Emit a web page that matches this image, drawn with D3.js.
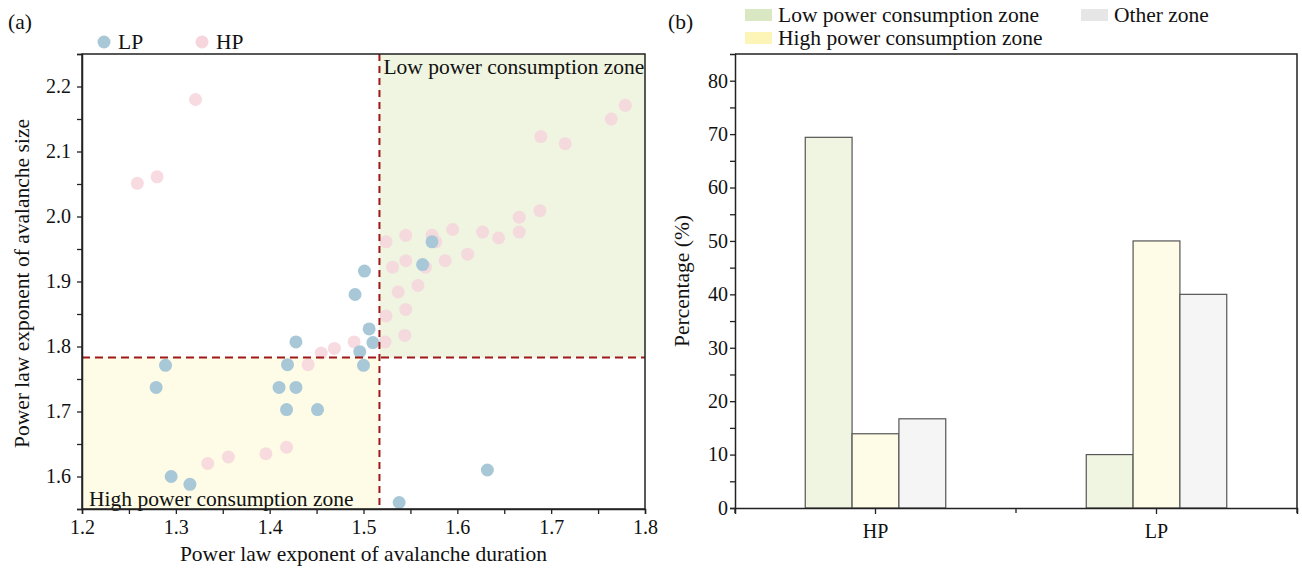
<!DOCTYPE html>
<html>
<head>
<meta charset="utf-8">
<script src="https://cdn.jsdelivr.net/npm/d3@7"></script>
<style>
  body { margin: 0; background: #fff; }
  svg { font-family: "Liberation Serif", "Times New Roman", serif; }
</style>
</head>
<body>
<svg width="1302" height="568"></svg>
<script>
// scatter data (a): [duration exponent, size exponent]
const lpPoints = [
  [1.279, 1.737], [1.289, 1.771], [1.295, 1.600], [1.315, 1.588],
  [1.410, 1.737], [1.419, 1.772], [1.428, 1.807], [1.428, 1.737],
  [1.418, 1.703], [1.451, 1.703], [1.491, 1.880], [1.501, 1.916],
  [1.506, 1.827], [1.510, 1.806], [1.496, 1.792], [1.500, 1.771],
  [1.563, 1.926], [1.573, 1.961], [1.538, 1.560], [1.632, 1.610]
]
const hpPoints = [
  [1.259, 2.051], [1.280, 2.061], [1.321, 2.180], [1.334, 1.620],
  [1.356, 1.630], [1.396, 1.635], [1.418, 1.645], [1.441, 1.772],
  [1.455, 1.790], [1.469, 1.797], [1.490, 1.807], [1.523, 1.807],
  [1.544, 1.817], [1.524, 1.847], [1.545, 1.857], [1.537, 1.884],
  [1.558, 1.894], [1.531, 1.922], [1.545, 1.932], [1.566, 1.922],
  [1.587, 1.932], [1.611, 1.942], [1.524, 1.961], [1.545, 1.971],
  [1.573, 1.971], [1.577, 1.961], [1.595, 1.980], [1.627, 1.976],
  [1.644, 1.967], [1.666, 1.976], [1.666, 1.999], [1.688, 2.009],
  [1.689, 2.123], [1.715, 2.112], [1.764, 2.150], [1.779, 2.171]
]
const xThreshold = 1.517
const yThreshold = 1.783

// bar data (b)
const groups = ["HP", "LP"]
const zones = ["Low power consumption zone", "High power consumption zone", "Other zone"]
const lowZone = [69.4, 10]
const highZone = [13.9, 50]
const otherZone = [16.7, 40]

const FS = 21.5   // label font size
const TFS = 20    // tick font size

const svg = d3.select("svg")

// ---------- panel (a) ----------
const ax = { left: 82, right: 645, top: 54, bottom: 509 }
const x = d3.scaleLinear().domain([1.2, 1.8]).range([ax.left, ax.right])
const y = d3.scaleLinear().domain([1.55, 2.25]).range([ax.bottom, ax.top])

const a = svg.append("g")

// zone shading
a.append("rect")
  .attr("x", x(xThreshold)).attr("y", ax.top)
  .attr("width", ax.right - x(xThreshold)).attr("height", y(yThreshold) - ax.top)
  .attr("fill", "#eff5e1")
a.append("rect")
  .attr("x", ax.left).attr("y", y(yThreshold))
  .attr("width", x(xThreshold) - ax.left).attr("height", ax.bottom - y(yThreshold))
  .attr("fill", "#fefce6")

a.append("text").attr("x", x(xThreshold) + 4).attr("y", ax.top + 20)
  .attr("font-size", FS).attr("fill", "#111").text("Low power consumption zone")
a.append("text").attr("x", ax.left + 7).attr("y", ax.bottom - 3)
  .attr("font-size", FS).attr("fill", "#111").text("High power consumption zone")

// points: HP first, LP on top
a.selectAll("circle.hp").data(hpPoints).enter().append("circle")
  .attr("class", "hp")
  .attr("cx", d => x(d[0])).attr("cy", d => y(d[1])).attr("r", 6.5)
  .attr("fill", "#f6d5dc").attr("fill-opacity", 0.85)
a.selectAll("circle.lp").data(lpPoints).enter().append("circle")
  .attr("class", "lp")
  .attr("cx", d => x(d[0])).attr("cy", d => y(d[1])).attr("r", 6.5)
  .attr("fill", "#a8c8d8")

// dashed thresholds
a.append("line")
  .attr("x1", x(xThreshold)).attr("x2", x(xThreshold))
  .attr("y1", ax.top).attr("y2", ax.bottom)
  .attr("stroke", "#a01818").attr("stroke-width", 2).attr("stroke-dasharray", "7,5")
a.append("line")
  .attr("x1", ax.left).attr("x2", ax.right)
  .attr("y1", y(yThreshold)).attr("y2", y(yThreshold))
  .attr("stroke", "#a01818").attr("stroke-width", 2).attr("stroke-dasharray", "8,5")

// frame
a.append("rect")
  .attr("x", ax.left).attr("y", ax.top)
  .attr("width", ax.right - ax.left).attr("height", ax.bottom - ax.top)
  .attr("fill", "none").attr("stroke", "#222").attr("stroke-width", 1.5)

// axes
const isMajor = d => Math.abs(d * 10 - Math.round(d * 10)) < 1e-6
const xAxisA = a.append("g").attr("transform", `translate(0,${ax.bottom})`)
  .call(d3.axisBottom(x).tickValues(d3.range(1.2, 1.801, 0.05))
    .tickFormat(d => isMajor(d) ? d3.format(".1f")(d) : "")
    .tickSize(5).tickPadding(6))
const yAxisA = a.append("g").attr("transform", `translate(${ax.left},0)`)
  .call(d3.axisLeft(y).tickValues(d3.range(1.55, 2.251, 0.05))
    .tickFormat(d => isMajor(d) ? d3.format(".1f")(d) : "")
    .tickSize(5).tickPadding(6))
;[xAxisA, yAxisA].forEach(g => {
  g.select(".domain").attr("stroke", "#222").attr("stroke-width", 1.5)
  g.selectAll(".tick line").attr("stroke", "#222").attr("stroke-width", 1.3)
  g.selectAll(".tick text").attr("font-size", TFS).attr("fill", "#111")
    .attr("font-family", "Liberation Serif, serif")
})

a.append("text").attr("x", (ax.left + ax.right) / 2).attr("y", 561)
  .attr("text-anchor", "middle").attr("font-size", FS).attr("fill", "#111")
  .text("Power law exponent of avalanche duration")
a.append("text").attr("transform", `translate(29,${(ax.top + ax.bottom) / 2 + 2}) rotate(-90)`)
  .attr("text-anchor", "middle").attr("font-size", FS).attr("fill", "#111")
  .text("Power law exponent of avalanche size")
a.append("text").attr("x", 8).attr("y", 29).attr("font-size", FS).attr("fill", "#111").text("(a)")

// legend (a)
const legA = [["LP", "#a8c8d8", 104], ["HP", "#f6d5dc", 202]]
legA.forEach(([name, col, lx]) => {
  a.append("circle").attr("cx", lx).attr("cy", 42).attr("r", 6.5).attr("fill", col)
  a.append("text").attr("x", lx + 14).attr("y", 49).attr("font-size", FS).attr("fill", "#111").text(name)
})

// ---------- panel (b) ----------
const bx = { left: 735, right: 1297, top: 54, bottom: 508 }
const x0 = d3.scaleBand().domain(groups).range([bx.left, bx.right])
const x1 = d3.scaleBand().domain(zones).range([x0.bandwidth() * 0.25, x0.bandwidth() * 0.75])
const yb = d3.scaleLinear().domain([0, 85]).range([bx.bottom, bx.top])
const barFill = { [zones[0]]: "#eff5e1", [zones[1]]: "#fefce7", [zones[2]]: "#f5f5f5" }
const swatch = { [zones[0]]: "#d9e8c3", [zones[1]]: "#fdf5b8", [zones[2]]: "#e6e6e6" }

const barRows = groups.map((g, i) => ({
  group: g,
  values: [[zones[0], lowZone[i]], [zones[1], highZone[i]], [zones[2], otherZone[i]]]
}))

const b = svg.append("g")
b.selectAll("g.grp").data(barRows).enter().append("g")
  .attr("transform", d => `translate(${x0(d.group)},0)`)
  .selectAll("rect").data(d => d.values).enter().append("rect")
  .attr("x", d => x1(d[0])).attr("width", x1.bandwidth())
  .attr("y", d => yb(d[1])).attr("height", d => yb(0) - yb(d[1]))
  .attr("fill", d => barFill[d[0]]).attr("stroke", "#555").attr("stroke-width", 1.2)

// frame
b.append("path")
  .attr("d", `M${bx.left},${bx.top}H${bx.right}V${bx.bottom}`)
  .attr("fill", "none").attr("stroke", "#222").attr("stroke-width", 1.5)

const yAxisB = b.append("g").attr("transform", `translate(${bx.left},0)`)
  .call(d3.axisLeft(yb).tickValues(d3.range(0, 85, 5))
    .tickFormat(d => d % 10 === 0 ? d : "").tickSize(5).tickPadding(2))
const xAxisB = b.append("g").attr("transform", `translate(0,${bx.bottom})`)
  .call(d3.axisBottom(x0).tickSize(6).tickPadding(10))
// boundary ticks between / at the ends of groups
b.selectAll("line.minor").data([bx.left, (bx.left + bx.right) / 2, bx.right]).enter()
  .append("line").attr("class", "minor")
  .attr("x1", d => d).attr("x2", d => d).attr("y1", bx.bottom).attr("y2", bx.bottom + 5)
  .attr("stroke", "#222").attr("stroke-width", 1.3)
;[xAxisB, yAxisB].forEach(g => {
  g.select(".domain").attr("stroke", "#222").attr("stroke-width", 1.5)
  g.selectAll(".tick line").attr("stroke", "#222").attr("stroke-width", 1.3)
  g.selectAll(".tick text").attr("font-size", TFS).attr("fill", "#111")
    .attr("font-family", "Liberation Serif, serif")
})

b.append("text").attr("transform", `translate(689,${(bx.top + bx.bottom) / 2}) rotate(-90)`)
  .attr("text-anchor", "middle").attr("font-size", FS).attr("fill", "#111")
  .text("Percentage (%)")
b.append("text").attr("x", 668).attr("y", 29).attr("font-size", FS).attr("fill", "#111").text("(b)")

// legend (b)
const legB = [[zones[0], 745, 9], [zones[1], 745, 32], [zones[2], 1081, 9]]
legB.forEach(([name, lx, ly]) => {
  b.append("rect").attr("x", lx).attr("y", ly).attr("width", 27).attr("height", 12).attr("fill", swatch[name])
  b.append("text").attr("x", lx + 33).attr("y", ly + 13).attr("font-size", FS).attr("fill", "#111").text(name)
})
</script>
</body>
</html>
